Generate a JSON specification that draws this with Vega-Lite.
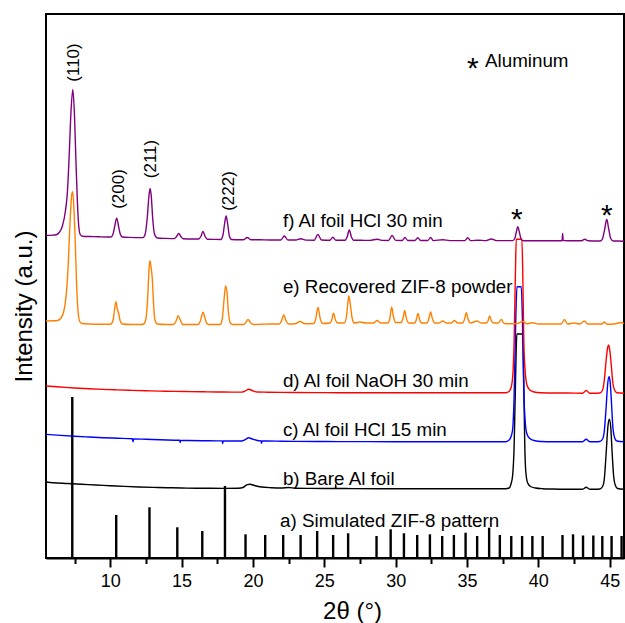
{
  "$schema": "https://vega.github.io/schema/vega-lite/v6.json",
  "width": 578,
  "height": 544,
  "autosize": {"type": "none"},
  "padding": {"left": 46, "top": 14, "right": 1, "bottom": 65},
  "background": "white",
  "config": {
    "font": "Liberation Sans",
    "view": {"stroke": "black", "strokeWidth": 2},
    "axis": {"grid": false, "domainColor": "black", "tickColor": "black", "labelColor": "black", "titleColor": "black", "labelFont": "Liberation Sans", "titleFont": "Liberation Sans", "titleFontWeight": "normal"}
  },
  "datasets": {
    "sticks": [
      {"angle": 7.34, "intensity": 160}, {"angle": 10.42, "intensity": 42}, {"angle": 12.75, "intensity": 49.7},
      {"angle": 14.7, "intensity": 29.7}, {"angle": 16.45, "intensity": 26}, {"angle": 18.04, "intensity": 71},
      {"angle": 19.48, "intensity": 22.7}, {"angle": 20.86, "intensity": 22}, {"angle": 22.12, "intensity": 22},
      {"angle": 23.34, "intensity": 22}, {"angle": 24.5, "intensity": 26}, {"angle": 25.62, "intensity": 22},
      {"angle": 26.67, "intensity": 23.7}, {"angle": 28.66, "intensity": 21}, {"angle": 29.65, "intensity": 27.7},
      {"angle": 30.58, "intensity": 23.7}, {"angle": 31.51, "intensity": 22}, {"angle": 32.4, "intensity": 22.7},
      {"angle": 33.26, "intensity": 21}, {"angle": 34.08, "intensity": 22}, {"angle": 34.9, "intensity": 24.3},
      {"angle": 35.71, "intensity": 21}, {"angle": 36.55, "intensity": 29.3}, {"angle": 37.3, "intensity": 22},
      {"angle": 38.1, "intensity": 21}, {"angle": 38.86, "intensity": 21}, {"angle": 39.58, "intensity": 21},
      {"angle": 40.3, "intensity": 21}, {"angle": 41.69, "intensity": 22}, {"angle": 42.43, "intensity": 22.7},
      {"angle": 43.13, "intensity": 21.5}, {"angle": 43.85, "intensity": 21.5}, {"angle": 44.48, "intensity": 21},
      {"angle": 45.13, "intensity": 21}, {"angle": 45.83, "intensity": 21}
    ],
    "patterns": [
      {"sample": "b", "angle": 5.5, "intensity": 75}, {"sample": "b", "angle": 6.0, "intensity": 74.3},
      {"sample": "b", "angle": 7.0, "intensity": 73.5}, {"sample": "b", "angle": 8.0, "intensity": 72.7},
      {"sample": "b", "angle": 9.0, "intensity": 72}, {"sample": "b", "angle": 10.0, "intensity": 71.3},
      {"sample": "b", "angle": 11.0, "intensity": 70.6}, {"sample": "b", "angle": 12.0, "intensity": 70},
      {"sample": "b", "angle": 13.0, "intensity": 69.6}, {"sample": "b", "angle": 14.0, "intensity": 69.3},
      {"sample": "b", "angle": 15.0, "intensity": 69}, {"sample": "b", "angle": 16.0, "intensity": 68.8},
      {"sample": "b", "angle": 17.0, "intensity": 68.7}, {"sample": "b", "angle": 18.0, "intensity": 68.6},
      {"sample": "b", "angle": 19.0, "intensity": 68.7}, {"sample": "b", "angle": 19.3, "intensity": 69.5},
      {"sample": "b", "angle": 19.6, "intensity": 72.3}, {"sample": "b", "angle": 19.8, "intensity": 72.7},
      {"sample": "b", "angle": 20.1, "intensity": 71.5}, {"sample": "b", "angle": 20.6, "intensity": 70},
      {"sample": "b", "angle": 21.3, "intensity": 69.3}, {"sample": "b", "angle": 22.0, "intensity": 69},
      {"sample": "b", "angle": 22.5, "intensity": 69.5}, {"sample": "b", "angle": 23.0, "intensity": 68.8},
      {"sample": "b", "angle": 24.0, "intensity": 68.6}, {"sample": "b", "angle": 25.0, "intensity": 68.5},
      {"sample": "b", "angle": 25.78, "intensity": 68.5}, {"sample": "b", "angle": 25.8, "intensity": 72.5},
      {"sample": "b", "angle": 25.82, "intensity": 68.5}, {"sample": "b", "angle": 27.0, "intensity": 68.4},
      {"sample": "b", "angle": 29.0, "intensity": 68.3}, {"sample": "b", "angle": 31.0, "intensity": 68.3},
      {"sample": "b", "angle": 33.0, "intensity": 68.3}, {"sample": "b", "angle": 35.0, "intensity": 68.3},
      {"sample": "b", "angle": 37.7, "intensity": 68.3}, {"sample": "b", "angle": 37.95, "intensity": 69},
      {"sample": "b", "angle": 38.1, "intensity": 74}, {"sample": "b", "angle": 38.2, "intensity": 82},
      {"sample": "b", "angle": 38.3, "intensity": 110}, {"sample": "b", "angle": 38.42, "intensity": 190},
      {"sample": "b", "angle": 38.49, "intensity": 223}, {"sample": "b", "angle": 38.91, "intensity": 223},
      {"sample": "b", "angle": 38.97, "intensity": 180}, {"sample": "b", "angle": 39.05, "intensity": 110},
      {"sample": "b", "angle": 39.12, "intensity": 85}, {"sample": "b", "angle": 39.25, "intensity": 74},
      {"sample": "b", "angle": 39.45, "intensity": 70.5}, {"sample": "b", "angle": 39.8, "intensity": 69},
      {"sample": "b", "angle": 40.3, "intensity": 68.3}, {"sample": "b", "angle": 41.0, "intensity": 68},
      {"sample": "b", "angle": 42.0, "intensity": 67.8}, {"sample": "b", "angle": 43.1, "intensity": 67.8},
      {"sample": "b", "angle": 43.35, "intensity": 69.8}, {"sample": "b", "angle": 43.6, "intensity": 67.8},
      {"sample": "b", "angle": 44.0, "intensity": 67.8}, {"sample": "b", "angle": 44.3, "intensity": 68},
      {"sample": "b", "angle": 44.5, "intensity": 70.5}, {"sample": "b", "angle": 44.62, "intensity": 78},
      {"sample": "b", "angle": 44.75, "intensity": 104}, {"sample": "b", "angle": 44.87, "intensity": 130},
      {"sample": "b", "angle": 44.97, "intensity": 137.7}, {"sample": "b", "angle": 45.07, "intensity": 130},
      {"sample": "b", "angle": 45.17, "intensity": 104}, {"sample": "b", "angle": 45.28, "intensity": 80},
      {"sample": "b", "angle": 45.4, "intensity": 71.5}, {"sample": "b", "angle": 45.55, "intensity": 68.5},
      {"sample": "b", "angle": 46.0, "intensity": 67.7},

      {"sample": "c", "angle": 5.5, "intensity": 122.7}, {"sample": "c", "angle": 6.5, "intensity": 121.6},
      {"sample": "c", "angle": 7.5, "intensity": 120.7}, {"sample": "c", "angle": 8.5, "intensity": 120},
      {"sample": "c", "angle": 9.5, "intensity": 119.3}, {"sample": "c", "angle": 10.5, "intensity": 118.8},
      {"sample": "c", "angle": 11.56, "intensity": 118.2}, {"sample": "c", "angle": 11.6, "intensity": 115.2},
      {"sample": "c", "angle": 11.64, "intensity": 118.1}, {"sample": "c", "angle": 12.5, "intensity": 117.7},
      {"sample": "c", "angle": 13.5, "intensity": 117.2}, {"sample": "c", "angle": 14.5, "intensity": 116.8},
      {"sample": "c", "angle": 14.87, "intensity": 116.7}, {"sample": "c", "angle": 14.9, "intensity": 114.5},
      {"sample": "c", "angle": 14.93, "intensity": 116.6}, {"sample": "c", "angle": 15.5, "intensity": 116.5},
      {"sample": "c", "angle": 16.5, "intensity": 116.3}, {"sample": "c", "angle": 17.5, "intensity": 116.1},
      {"sample": "c", "angle": 17.85, "intensity": 116.1}, {"sample": "c", "angle": 17.88, "intensity": 113.5},
      {"sample": "c", "angle": 17.91, "intensity": 116.1}, {"sample": "c", "angle": 18.5, "intensity": 116},
      {"sample": "c", "angle": 19.2, "intensity": 116}, {"sample": "c", "angle": 19.45, "intensity": 117.3},
      {"sample": "c", "angle": 19.7, "intensity": 119.2}, {"sample": "c", "angle": 19.95, "intensity": 118},
      {"sample": "c", "angle": 20.3, "intensity": 116.5}, {"sample": "c", "angle": 20.57, "intensity": 116.1},
      {"sample": "c", "angle": 20.6, "intensity": 113.8}, {"sample": "c", "angle": 20.63, "intensity": 116},
      {"sample": "c", "angle": 21.0, "intensity": 116}, {"sample": "c", "angle": 22.0, "intensity": 115.8},
      {"sample": "c", "angle": 23.0, "intensity": 115.6}, {"sample": "c", "angle": 24.5, "intensity": 115.5},
      {"sample": "c", "angle": 26.0, "intensity": 115.4}, {"sample": "c", "angle": 28.0, "intensity": 115.4},
      {"sample": "c", "angle": 30.0, "intensity": 115.3}, {"sample": "c", "angle": 32.0, "intensity": 115.3},
      {"sample": "c", "angle": 34.0, "intensity": 115.3}, {"sample": "c", "angle": 36.0, "intensity": 115.3},
      {"sample": "c", "angle": 37.7, "intensity": 115.3}, {"sample": "c", "angle": 37.95, "intensity": 117},
      {"sample": "c", "angle": 38.1, "intensity": 121}, {"sample": "c", "angle": 38.2, "intensity": 128},
      {"sample": "c", "angle": 38.3, "intensity": 160}, {"sample": "c", "angle": 38.42, "intensity": 240},
      {"sample": "c", "angle": 38.5, "intensity": 270.3}, {"sample": "c", "angle": 38.8, "intensity": 270.3},
      {"sample": "c", "angle": 38.88, "intensity": 240}, {"sample": "c", "angle": 38.98, "intensity": 165},
      {"sample": "c", "angle": 39.08, "intensity": 135}, {"sample": "c", "angle": 39.2, "intensity": 123},
      {"sample": "c", "angle": 39.4, "intensity": 118.5}, {"sample": "c", "angle": 39.7, "intensity": 116.5},
      {"sample": "c", "angle": 40.2, "intensity": 115.5}, {"sample": "c", "angle": 41.0, "intensity": 115.3},
      {"sample": "c", "angle": 42.0, "intensity": 115.3}, {"sample": "c", "angle": 43.1, "intensity": 115.3},
      {"sample": "c", "angle": 43.35, "intensity": 117.8}, {"sample": "c", "angle": 43.6, "intensity": 115.3},
      {"sample": "c", "angle": 44.0, "intensity": 115.3}, {"sample": "c", "angle": 44.3, "intensity": 115.5},
      {"sample": "c", "angle": 44.5, "intensity": 118}, {"sample": "c", "angle": 44.62, "intensity": 126},
      {"sample": "c", "angle": 44.75, "intensity": 150}, {"sample": "c", "angle": 44.85, "intensity": 172},
      {"sample": "c", "angle": 44.95, "intensity": 180.3}, {"sample": "c", "angle": 45.03, "intensity": 175},
      {"sample": "c", "angle": 45.12, "intensity": 155}, {"sample": "c", "angle": 45.22, "intensity": 130},
      {"sample": "c", "angle": 45.35, "intensity": 119}, {"sample": "c", "angle": 45.5, "intensity": 116},
      {"sample": "c", "angle": 46.0, "intensity": 115.3},

      {"sample": "d", "angle": 5.5, "intensity": 171}, {"sample": "d", "angle": 6.5, "intensity": 170},
      {"sample": "d", "angle": 7.5, "intensity": 169}, {"sample": "d", "angle": 8.5, "intensity": 168.2},
      {"sample": "d", "angle": 9.5, "intensity": 167.6}, {"sample": "d", "angle": 10.5, "intensity": 167.1},
      {"sample": "d", "angle": 11.5, "intensity": 166.6}, {"sample": "d", "angle": 12.5, "intensity": 166.2},
      {"sample": "d", "angle": 13.5, "intensity": 165.9}, {"sample": "d", "angle": 14.5, "intensity": 165.6},
      {"sample": "d", "angle": 15.5, "intensity": 165.4}, {"sample": "d", "angle": 16.5, "intensity": 165.2},
      {"sample": "d", "angle": 17.5, "intensity": 165}, {"sample": "d", "angle": 18.5, "intensity": 164.9},
      {"sample": "d", "angle": 19.2, "intensity": 164.9}, {"sample": "d", "angle": 19.45, "intensity": 166},
      {"sample": "d", "angle": 19.7, "intensity": 167.7}, {"sample": "d", "angle": 19.95, "intensity": 166.5},
      {"sample": "d", "angle": 20.3, "intensity": 165}, {"sample": "d", "angle": 21.0, "intensity": 164.8},
      {"sample": "d", "angle": 22.0, "intensity": 164.6}, {"sample": "d", "angle": 23.0, "intensity": 164.5},
      {"sample": "d", "angle": 24.5, "intensity": 164.4}, {"sample": "d", "angle": 26.0, "intensity": 164.3},
      {"sample": "d", "angle": 28.0, "intensity": 164.3}, {"sample": "d", "angle": 30.0, "intensity": 164.3},
      {"sample": "d", "angle": 32.0, "intensity": 164.3}, {"sample": "d", "angle": 34.0, "intensity": 164.2},
      {"sample": "d", "angle": 36.0, "intensity": 164.2}, {"sample": "d", "angle": 37.7, "intensity": 164.3},
      {"sample": "d", "angle": 37.95, "intensity": 165.5}, {"sample": "d", "angle": 38.1, "intensity": 170},
      {"sample": "d", "angle": 38.2, "intensity": 180}, {"sample": "d", "angle": 38.3, "intensity": 215},
      {"sample": "d", "angle": 38.4, "intensity": 290}, {"sample": "d", "angle": 38.45, "intensity": 317.7},
      {"sample": "d", "angle": 38.84, "intensity": 317.7}, {"sample": "d", "angle": 38.9, "intensity": 290},
      {"sample": "d", "angle": 38.98, "intensity": 215}, {"sample": "d", "angle": 39.08, "intensity": 185},
      {"sample": "d", "angle": 39.2, "intensity": 172}, {"sample": "d", "angle": 39.4, "intensity": 167},
      {"sample": "d", "angle": 39.7, "intensity": 165}, {"sample": "d", "angle": 40.2, "intensity": 164.3},
      {"sample": "d", "angle": 41.0, "intensity": 164}, {"sample": "d", "angle": 42.0, "intensity": 164},
      {"sample": "d", "angle": 43.1, "intensity": 163.8}, {"sample": "d", "angle": 43.35, "intensity": 166.5},
      {"sample": "d", "angle": 43.6, "intensity": 163.8}, {"sample": "d", "angle": 44.0, "intensity": 163.8},
      {"sample": "d", "angle": 44.3, "intensity": 164}, {"sample": "d", "angle": 44.5, "intensity": 167},
      {"sample": "d", "angle": 44.62, "intensity": 177}, {"sample": "d", "angle": 44.75, "intensity": 197},
      {"sample": "d", "angle": 44.85, "intensity": 209}, {"sample": "d", "angle": 44.93, "intensity": 212},
      {"sample": "d", "angle": 45.02, "intensity": 205}, {"sample": "d", "angle": 45.12, "intensity": 190},
      {"sample": "d", "angle": 45.22, "intensity": 174}, {"sample": "d", "angle": 45.35, "intensity": 166.5},
      {"sample": "d", "angle": 45.5, "intensity": 164.3}, {"sample": "d", "angle": 46.0, "intensity": 163.7},

      {"sample": "e", "angle": 5.5, "intensity": 236}, {"sample": "e", "angle": 6.0, "intensity": 236.2},
      {"sample": "e", "angle": 6.3, "intensity": 236.5}, {"sample": "e", "angle": 6.55, "intensity": 239},
      {"sample": "e", "angle": 6.75, "intensity": 246}, {"sample": "e", "angle": 6.9, "intensity": 260},
      {"sample": "e", "angle": 7.05, "intensity": 290}, {"sample": "e", "angle": 7.2, "intensity": 340},
      {"sample": "e", "angle": 7.3, "intensity": 362}, {"sample": "e", "angle": 7.37, "intensity": 365.3},
      {"sample": "e", "angle": 7.45, "intensity": 350}, {"sample": "e", "angle": 7.55, "intensity": 315},
      {"sample": "e", "angle": 7.65, "intensity": 270}, {"sample": "e", "angle": 7.75, "intensity": 245},
      {"sample": "e", "angle": 7.85, "intensity": 236}, {"sample": "e", "angle": 8.0, "intensity": 233.5},
      {"sample": "e", "angle": 8.6, "intensity": 233}, {"sample": "e", "angle": 9.2, "intensity": 232.8},
      {"sample": "e", "angle": 9.8, "intensity": 232.8}, {"sample": "e", "angle": 10.05, "intensity": 233},
      {"sample": "e", "angle": 10.2, "intensity": 237}, {"sample": "e", "angle": 10.3, "intensity": 247},
      {"sample": "e", "angle": 10.4, "intensity": 255.3}, {"sample": "e", "angle": 10.5, "intensity": 248},
      {"sample": "e", "angle": 10.6, "intensity": 243}, {"sample": "e", "angle": 10.7, "intensity": 236},
      {"sample": "e", "angle": 10.85, "intensity": 233}, {"sample": "e", "angle": 11.5, "intensity": 232.5},
      {"sample": "e", "angle": 12.1, "intensity": 232.5}, {"sample": "e", "angle": 12.35, "intensity": 233},
      {"sample": "e", "angle": 12.5, "intensity": 238}, {"sample": "e", "angle": 12.62, "intensity": 258},
      {"sample": "e", "angle": 12.72, "intensity": 288}, {"sample": "e", "angle": 12.78, "intensity": 296.3},
      {"sample": "e", "angle": 12.86, "intensity": 290}, {"sample": "e", "angle": 12.95, "intensity": 278},
      {"sample": "e", "angle": 13.03, "intensity": 255}, {"sample": "e", "angle": 13.12, "intensity": 238},
      {"sample": "e", "angle": 13.3, "intensity": 233}, {"sample": "e", "angle": 13.9, "intensity": 232.5},
      {"sample": "e", "angle": 14.45, "intensity": 232.5}, {"sample": "e", "angle": 14.6, "intensity": 235.5},
      {"sample": "e", "angle": 14.76, "intensity": 241.3}, {"sample": "e", "angle": 14.92, "intensity": 236.5},
      {"sample": "e", "angle": 15.1, "intensity": 232.5}, {"sample": "e", "angle": 15.7, "intensity": 232.5},
      {"sample": "e", "angle": 16.15, "intensity": 232.5}, {"sample": "e", "angle": 16.32, "intensity": 236},
      {"sample": "e", "angle": 16.5, "intensity": 244.7}, {"sample": "e", "angle": 16.62, "intensity": 240},
      {"sample": "e", "angle": 16.75, "intensity": 234}, {"sample": "e", "angle": 16.9, "intensity": 232.5},
      {"sample": "e", "angle": 17.3, "intensity": 232.5}, {"sample": "e", "angle": 17.7, "intensity": 232.5},
      {"sample": "e", "angle": 17.85, "intensity": 238}, {"sample": "e", "angle": 17.98, "intensity": 258},
      {"sample": "e", "angle": 18.08, "intensity": 271}, {"sample": "e", "angle": 18.18, "intensity": 265},
      {"sample": "e", "angle": 18.28, "intensity": 245}, {"sample": "e", "angle": 18.42, "intensity": 234},
      {"sample": "e", "angle": 18.6, "intensity": 232.5}, {"sample": "e", "angle": 19.0, "intensity": 232.5},
      {"sample": "e", "angle": 19.35, "intensity": 232.5}, {"sample": "e", "angle": 19.5, "intensity": 234.5},
      {"sample": "e", "angle": 19.66, "intensity": 237.5}, {"sample": "e", "angle": 19.85, "intensity": 234},
      {"sample": "e", "angle": 20.05, "intensity": 232.5}, {"sample": "e", "angle": 20.6, "intensity": 232.8},
      {"sample": "e", "angle": 21.2, "intensity": 233}, {"sample": "e", "angle": 21.85, "intensity": 233},
      {"sample": "e", "angle": 22.0, "intensity": 236}, {"sample": "e", "angle": 22.16, "intensity": 242},
      {"sample": "e", "angle": 22.32, "intensity": 236}, {"sample": "e", "angle": 22.5, "intensity": 233},
      {"sample": "e", "angle": 22.95, "intensity": 233.2}, {"sample": "e", "angle": 23.3, "intensity": 235.5},
      {"sample": "e", "angle": 23.65, "intensity": 233.3}, {"sample": "e", "angle": 24.25, "intensity": 233.5},
      {"sample": "e", "angle": 24.4, "intensity": 238}, {"sample": "e", "angle": 24.56, "intensity": 249.7},
      {"sample": "e", "angle": 24.72, "intensity": 238}, {"sample": "e", "angle": 24.9, "intensity": 233.5},
      {"sample": "e", "angle": 25.4, "intensity": 234}, {"sample": "e", "angle": 25.52, "intensity": 237},
      {"sample": "e", "angle": 25.65, "intensity": 243.7}, {"sample": "e", "angle": 25.78, "intensity": 237},
      {"sample": "e", "angle": 25.95, "intensity": 234}, {"sample": "e", "angle": 26.4, "intensity": 234},
      {"sample": "e", "angle": 26.55, "intensity": 240}, {"sample": "e", "angle": 26.65, "intensity": 254},
      {"sample": "e", "angle": 26.72, "intensity": 261}, {"sample": "e", "angle": 26.82, "intensity": 253},
      {"sample": "e", "angle": 26.95, "intensity": 239}, {"sample": "e", "angle": 27.1, "intensity": 234},
      {"sample": "e", "angle": 27.5, "intensity": 235}, {"sample": "e", "angle": 27.9, "intensity": 234},
      {"sample": "e", "angle": 28.45, "intensity": 234}, {"sample": "e", "angle": 28.7, "intensity": 236.5},
      {"sample": "e", "angle": 28.95, "intensity": 234}, {"sample": "e", "angle": 29.45, "intensity": 234},
      {"sample": "e", "angle": 29.6, "intensity": 239}, {"sample": "e", "angle": 29.72, "intensity": 250},
      {"sample": "e", "angle": 29.85, "intensity": 240}, {"sample": "e", "angle": 30.0, "intensity": 234.5},
      {"sample": "e", "angle": 30.4, "intensity": 234.5}, {"sample": "e", "angle": 30.52, "intensity": 239},
      {"sample": "e", "angle": 30.63, "intensity": 246.5}, {"sample": "e", "angle": 30.75, "intensity": 239},
      {"sample": "e", "angle": 30.9, "intensity": 234}, {"sample": "e", "angle": 31.35, "intensity": 234},
      {"sample": "e", "angle": 31.45, "intensity": 237.5}, {"sample": "e", "angle": 31.56, "intensity": 243.5},
      {"sample": "e", "angle": 31.68, "intensity": 237.5}, {"sample": "e", "angle": 31.8, "intensity": 234},
      {"sample": "e", "angle": 32.2, "intensity": 234}, {"sample": "e", "angle": 32.32, "intensity": 238},
      {"sample": "e", "angle": 32.45, "intensity": 245}, {"sample": "e", "angle": 32.58, "intensity": 238},
      {"sample": "e", "angle": 32.75, "intensity": 234}, {"sample": "e", "angle": 33.05, "intensity": 234},
      {"sample": "e", "angle": 33.3, "intensity": 236}, {"sample": "e", "angle": 33.55, "intensity": 234},
      {"sample": "e", "angle": 33.9, "intensity": 234}, {"sample": "e", "angle": 34.13, "intensity": 236.5},
      {"sample": "e", "angle": 34.35, "intensity": 234}, {"sample": "e", "angle": 34.7, "intensity": 234},
      {"sample": "e", "angle": 34.82, "intensity": 237.5}, {"sample": "e", "angle": 34.95, "intensity": 244.3},
      {"sample": "e", "angle": 35.08, "intensity": 237.5}, {"sample": "e", "angle": 35.25, "intensity": 234},
      {"sample": "e", "angle": 35.7, "intensity": 236}, {"sample": "e", "angle": 36.0, "intensity": 234},
      {"sample": "e", "angle": 36.35, "intensity": 234}, {"sample": "e", "angle": 36.47, "intensity": 236},
      {"sample": "e", "angle": 36.58, "intensity": 241}, {"sample": "e", "angle": 36.7, "intensity": 236.5},
      {"sample": "e", "angle": 36.85, "intensity": 234}, {"sample": "e", "angle": 37.2, "intensity": 234},
      {"sample": "e", "angle": 37.4, "intensity": 237.5}, {"sample": "e", "angle": 37.6, "intensity": 233.5},
      {"sample": "e", "angle": 38.1, "intensity": 233.3}, {"sample": "e", "angle": 38.5, "intensity": 233.5},
      {"sample": "e", "angle": 38.9, "intensity": 235.5}, {"sample": "e", "angle": 39.2, "intensity": 233.3},
      {"sample": "e", "angle": 39.6, "intensity": 234.3}, {"sample": "e", "angle": 40.0, "intensity": 233},
      {"sample": "e", "angle": 40.8, "intensity": 233}, {"sample": "e", "angle": 41.6, "intensity": 233},
      {"sample": "e", "angle": 41.83, "intensity": 237.5}, {"sample": "e", "angle": 42.05, "intensity": 233},
      {"sample": "e", "angle": 42.5, "intensity": 234}, {"sample": "e", "angle": 42.9, "intensity": 233},
      {"sample": "e", "angle": 43.23, "intensity": 236}, {"sample": "e", "angle": 43.45, "intensity": 233},
      {"sample": "e", "angle": 44.0, "intensity": 233}, {"sample": "e", "angle": 44.45, "intensity": 233},
      {"sample": "e", "angle": 44.63, "intensity": 235}, {"sample": "e", "angle": 44.8, "intensity": 232.8},
      {"sample": "e", "angle": 45.3, "intensity": 233}, {"sample": "e", "angle": 45.8, "intensity": 234.5},
      {"sample": "e", "angle": 46.0, "intensity": 233.5},

      {"sample": "f", "angle": 5.5, "intensity": 321.6}, {"sample": "f", "angle": 6.0, "intensity": 321.9},
      {"sample": "f", "angle": 6.2, "intensity": 322.2}, {"sample": "f", "angle": 6.45, "intensity": 325},
      {"sample": "f", "angle": 6.65, "intensity": 331}, {"sample": "f", "angle": 6.85, "intensity": 345},
      {"sample": "f", "angle": 7.0, "intensity": 365}, {"sample": "f", "angle": 7.12, "intensity": 400},
      {"sample": "f", "angle": 7.25, "intensity": 445}, {"sample": "f", "angle": 7.38, "intensity": 467.5},
      {"sample": "f", "angle": 7.5, "intensity": 440}, {"sample": "f", "angle": 7.6, "intensity": 395},
      {"sample": "f", "angle": 7.7, "intensity": 355}, {"sample": "f", "angle": 7.8, "intensity": 330},
      {"sample": "f", "angle": 7.9, "intensity": 322.5}, {"sample": "f", "angle": 8.05, "intensity": 320.8},
      {"sample": "f", "angle": 8.6, "intensity": 320.5}, {"sample": "f", "angle": 9.2, "intensity": 320.2},
      {"sample": "f", "angle": 9.8, "intensity": 320}, {"sample": "f", "angle": 10.05, "intensity": 320},
      {"sample": "f", "angle": 10.2, "intensity": 323}, {"sample": "f", "angle": 10.32, "intensity": 331},
      {"sample": "f", "angle": 10.45, "intensity": 338.8}, {"sample": "f", "angle": 10.58, "intensity": 331},
      {"sample": "f", "angle": 10.7, "intensity": 323}, {"sample": "f", "angle": 10.85, "intensity": 320},
      {"sample": "f", "angle": 11.4, "intensity": 319.6}, {"sample": "f", "angle": 12.0, "intensity": 319.4},
      {"sample": "f", "angle": 12.3, "intensity": 319.4}, {"sample": "f", "angle": 12.45, "intensity": 323},
      {"sample": "f", "angle": 12.6, "intensity": 340}, {"sample": "f", "angle": 12.72, "intensity": 362},
      {"sample": "f", "angle": 12.8, "intensity": 368.5}, {"sample": "f", "angle": 12.88, "intensity": 360},
      {"sample": "f", "angle": 12.98, "intensity": 338}, {"sample": "f", "angle": 13.1, "intensity": 323},
      {"sample": "f", "angle": 13.3, "intensity": 319}, {"sample": "f", "angle": 13.9, "intensity": 318.6},
      {"sample": "f", "angle": 14.5, "intensity": 318.4}, {"sample": "f", "angle": 14.65, "intensity": 320.5},
      {"sample": "f", "angle": 14.8, "intensity": 323.5}, {"sample": "f", "angle": 14.95, "intensity": 320.5},
      {"sample": "f", "angle": 15.1, "intensity": 318.3}, {"sample": "f", "angle": 15.7, "intensity": 318},
      {"sample": "f", "angle": 16.2, "intensity": 318}, {"sample": "f", "angle": 16.35, "intensity": 320.5},
      {"sample": "f", "angle": 16.5, "intensity": 325.5}, {"sample": "f", "angle": 16.65, "intensity": 320.5},
      {"sample": "f", "angle": 16.8, "intensity": 317.8}, {"sample": "f", "angle": 17.3, "intensity": 317.6},
      {"sample": "f", "angle": 17.75, "intensity": 317.5}, {"sample": "f", "angle": 17.9, "intensity": 322},
      {"sample": "f", "angle": 18.02, "intensity": 334}, {"sample": "f", "angle": 18.12, "intensity": 341},
      {"sample": "f", "angle": 18.22, "intensity": 334}, {"sample": "f", "angle": 18.35, "intensity": 321},
      {"sample": "f", "angle": 18.5, "intensity": 317.5}, {"sample": "f", "angle": 19.0, "intensity": 317.3},
      {"sample": "f", "angle": 19.35, "intensity": 317.3}, {"sample": "f", "angle": 19.6, "intensity": 319.5},
      {"sample": "f", "angle": 19.85, "intensity": 317.3}, {"sample": "f", "angle": 20.5, "intensity": 317.2},
      {"sample": "f", "angle": 21.2, "intensity": 317}, {"sample": "f", "angle": 21.95, "intensity": 317},
      {"sample": "f", "angle": 22.2, "intensity": 321}, {"sample": "f", "angle": 22.45, "intensity": 317},
      {"sample": "f", "angle": 23.0, "intensity": 317}, {"sample": "f", "angle": 23.35, "intensity": 318.3},
      {"sample": "f", "angle": 23.7, "intensity": 316.9}, {"sample": "f", "angle": 24.3, "intensity": 316.8},
      {"sample": "f", "angle": 24.55, "intensity": 322.5}, {"sample": "f", "angle": 24.8, "intensity": 317},
      {"sample": "f", "angle": 25.4, "intensity": 316.8}, {"sample": "f", "angle": 25.6, "intensity": 319.8},
      {"sample": "f", "angle": 25.8, "intensity": 316.8}, {"sample": "f", "angle": 26.45, "intensity": 316.8},
      {"sample": "f", "angle": 26.6, "intensity": 320}, {"sample": "f", "angle": 26.75, "intensity": 327},
      {"sample": "f", "angle": 26.9, "intensity": 320}, {"sample": "f", "angle": 27.05, "intensity": 316.8},
      {"sample": "f", "angle": 27.6, "intensity": 316.7}, {"sample": "f", "angle": 28.2, "intensity": 316.6},
      {"sample": "f", "angle": 28.7, "intensity": 317.8}, {"sample": "f", "angle": 29.1, "intensity": 316.6},
      {"sample": "f", "angle": 29.5, "intensity": 316.5}, {"sample": "f", "angle": 29.75, "intensity": 321.5},
      {"sample": "f", "angle": 30.0, "intensity": 316.6}, {"sample": "f", "angle": 30.45, "intensity": 316.5},
      {"sample": "f", "angle": 30.65, "intensity": 319.5}, {"sample": "f", "angle": 30.85, "intensity": 316.5},
      {"sample": "f", "angle": 31.35, "intensity": 316.5}, {"sample": "f", "angle": 31.55, "intensity": 319.2},
      {"sample": "f", "angle": 31.75, "intensity": 316.5}, {"sample": "f", "angle": 32.25, "intensity": 316.5},
      {"sample": "f", "angle": 32.45, "intensity": 319.5}, {"sample": "f", "angle": 32.65, "intensity": 316.4},
      {"sample": "f", "angle": 33.3, "intensity": 317.3}, {"sample": "f", "angle": 33.8, "intensity": 316.4},
      {"sample": "f", "angle": 34.4, "intensity": 316.4}, {"sample": "f", "angle": 34.85, "intensity": 316.4},
      {"sample": "f", "angle": 35.05, "intensity": 319.3}, {"sample": "f", "angle": 35.25, "intensity": 316.4},
      {"sample": "f", "angle": 35.8, "intensity": 316.8}, {"sample": "f", "angle": 36.3, "intensity": 316.4},
      {"sample": "f", "angle": 36.7, "intensity": 318}, {"sample": "f", "angle": 37.1, "intensity": 316.4},
      {"sample": "f", "angle": 37.7, "intensity": 316.4}, {"sample": "f", "angle": 38.2, "intensity": 316.4},
      {"sample": "f", "angle": 38.35, "intensity": 318.5}, {"sample": "f", "angle": 38.47, "intensity": 326},
      {"sample": "f", "angle": 38.56, "intensity": 330.3}, {"sample": "f", "angle": 38.65, "intensity": 326},
      {"sample": "f", "angle": 38.78, "intensity": 318.5}, {"sample": "f", "angle": 38.95, "intensity": 316.3},
      {"sample": "f", "angle": 39.6, "intensity": 316.3}, {"sample": "f", "angle": 40.3, "intensity": 316.2},
      {"sample": "f", "angle": 41.0, "intensity": 316.2}, {"sample": "f", "angle": 41.66, "intensity": 316.2},
      {"sample": "f", "angle": 41.7, "intensity": 323.5}, {"sample": "f", "angle": 41.74, "intensity": 316.4},
      {"sample": "f", "angle": 42.4, "intensity": 316.2}, {"sample": "f", "angle": 43.0, "intensity": 316.2},
      {"sample": "f", "angle": 43.25, "intensity": 317.7}, {"sample": "f", "angle": 43.5, "intensity": 316.2},
      {"sample": "f", "angle": 44.1, "intensity": 316}, {"sample": "f", "angle": 44.35, "intensity": 316},
      {"sample": "f", "angle": 44.5, "intensity": 318.5}, {"sample": "f", "angle": 44.65, "intensity": 328},
      {"sample": "f", "angle": 44.79, "intensity": 337.7}, {"sample": "f", "angle": 44.93, "intensity": 328},
      {"sample": "f", "angle": 45.07, "intensity": 318.5}, {"sample": "f", "angle": 45.25, "intensity": 316},
      {"sample": "f", "angle": 45.6, "intensity": 316}, {"sample": "f", "angle": 46.0, "intensity": 315.8}
    ],
    "labels": [
      {"text": "f) Al foil HCl 30 min", "angle": 22.1, "intensity": 336},
      {"text": "e) Recovered ZIF-8 powder", "angle": 22.1, "intensity": 270.5},
      {"text": "d) Al foil NaOH 30 min", "angle": 22.1, "intensity": 176},
      {"text": "c) Al foil HCl 15 min", "angle": 22.1, "intensity": 127},
      {"text": "b) Bare Al foil", "angle": 22.1, "intensity": 78},
      {"text": "a) Simulated ZIF-8 pattern", "angle": 21.9, "intensity": 36},
      {"text": "Aluminum", "angle": 36.26, "intensity": 496}
    ],
    "hkl": [
      {"text": "(110)", "angle": 7.48, "intensity": 494.5},
      {"text": "(200)", "angle": 10.63, "intensity": 368},
      {"text": "(211)", "angle": 12.86, "intensity": 398},
      {"text": "(222)", "angle": 18.29, "intensity": 366}
    ],
    "stars": [
      {"text": "*", "angle": 38.49, "intensity": 328},
      {"text": "*", "angle": 44.79, "intensity": 331.7},
      {"text": "*", "angle": 35.4, "intensity": 478.7}
    ]
  },
  "resolve": {"axis": {"x": "independent"}},
  "layer": [
    {
      "data": {"name": "sticks"},
      "mark": {"type": "rule", "color": "black", "strokeWidth": 2.4},
      "encoding": {
        "x": {
          "field": "angle", "type": "quantitative",
          "scale": {"domain": [5.5, 46], "nice": false, "zero": false},
          "axis": {
            "orient": "bottom", "values": [10, 15, 20, 25, 30, 35, 40, 45],
            "tickSize": 9, "tickWidth": 2, "domainWidth": 2,
            "labelFontSize": 18, "labelPadding": 5,
            "title": "2θ (°)", "titleFontSize": 24,
            "titleX": 306, "titleY": 60, "titleBaseline": "alphabetic", "titleAlign": "center"
          }
        },
        "y": {
          "field": "intensity", "type": "quantitative", "title": "Intensity (a.u.)",
          "scale": {"domain": [-1, 543], "nice": false, "zero": false},
          "axis": {
            "labels": false, "ticks": false, "domain": false,
            "titleFontSize": 24, "titleAngle": 270, "titleX": -15, "titleY": 292,
            "titleBaseline": "alphabetic", "titleAlign": "center"
          }
        },
        "y2": {"datum": 0}
      }
    },
    {
      "data": {"name": "patterns"},
      "mark": {"type": "line", "interpolate": "monotone", "strokeWidth": 1.4},
      "encoding": {
        "x": {
          "field": "angle", "type": "quantitative",
          "axis": {
            "orient": "bottom", "values": [7.5, 12.5, 17.5, 22.5, 27.5, 32.5, 37.5, 42.5],
            "labels": false, "domain": false, "tickSize": 5.5, "tickWidth": 2, "title": null
          }
        },
        "y": {"field": "intensity", "type": "quantitative", "title": "Intensity (a.u.)"},
        "color": {
          "field": "sample", "type": "nominal", "legend": null,
          "scale": {"domain": ["b", "c", "d", "e", "f"], "range": ["#000000", "#0000ff", "#ff0000", "#ff8000", "#800080"]}
        }
      }
    },
    {
      "data": {"name": "labels"},
      "mark": {"type": "text", "align": "left", "baseline": "middle", "fontSize": 18.8, "color": "black"},
      "encoding": {
        "x": {"field": "angle", "type": "quantitative", "axis": null},
        "y": {"field": "intensity", "type": "quantitative", "title": "Intensity (a.u.)"},
        "text": {"field": "text"}
      }
    },
    {
      "data": {"name": "hkl"},
      "mark": {"type": "text", "align": "center", "baseline": "middle", "angle": 270, "fontSize": 17, "color": "black"},
      "encoding": {
        "x": {"field": "angle", "type": "quantitative", "axis": null},
        "y": {"field": "intensity", "type": "quantitative", "title": "Intensity (a.u.)"},
        "text": {"field": "text"}
      }
    },
    {
      "data": {"name": "stars"},
      "mark": {"type": "text", "align": "center", "baseline": "alphabetic", "fontSize": 30, "color": "black"},
      "encoding": {
        "x": {"field": "angle", "type": "quantitative", "axis": null},
        "y": {"field": "intensity", "type": "quantitative", "title": "Intensity (a.u.)"},
        "text": {"field": "text"}
      }
    }
  ]
}
